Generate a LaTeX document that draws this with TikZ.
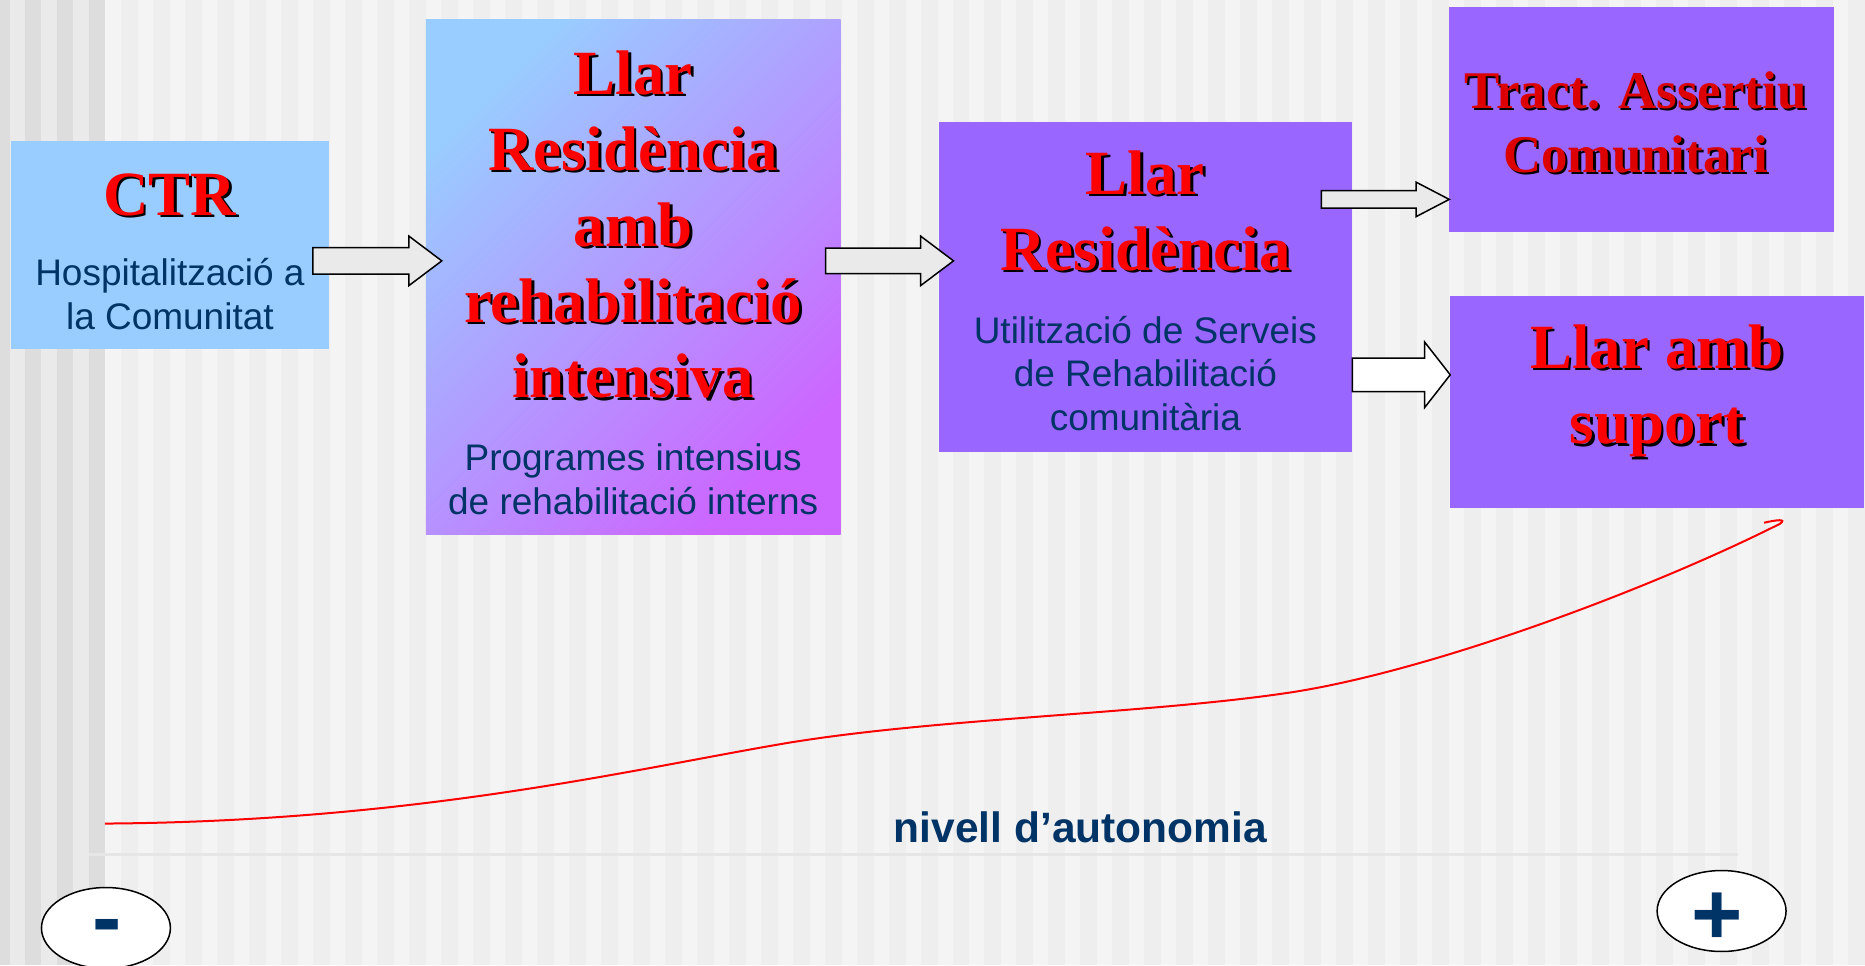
\documentclass[tikz,border=0pt]{standalone}
\usepackage{fontspec}
\setmainfont{Liberation Serif}
\setsansfont{Liberation Sans}
\usetikzlibrary{positioning, shapes.arrows, shapes.geometric}
\definecolor{skyblue}{HTML}{99CCFF}
\definecolor{lilac}{HTML}{9966FF}
\definecolor{orchid}{HTML}{CC66FF}
\definecolor{navy}{HTML}{003366}
\definecolor{darkred}{HTML}{DD0000}
\definecolor{arrowgray}{HTML}{EAEAEA}
\definecolor{stripeA}{HTML}{EAEAEA}
\definecolor{stripeB}{HTML}{DDDDDD}
\definecolor{stripeC}{HTML}{F4F4F4}
\definecolor{stripeD}{HTML}{EEEEEE}
\definecolor{rulegray}{HTML}{E6E6E6}
\newcommand{\bigfont}{\fontsize{63pt}{76pt}\selectfont\bfseries}
\newcommand{\midfont}{\fontsize{53pt}{64pt}\selectfont\bfseries}
\newcommand{\subfont}{\sffamily\fontsize{37pt}{44pt}\selectfont}
\newcommand{\signfont}{\sffamily\bfseries\fontsize{88pt}{100pt}\selectfont}
\newcommand{\shd}[1]{\strut\rlap{\kern0.04em\raisebox{-0.04em}{\color{black}#1}}#1}
\tikzset{box/.style = {rectangle, inner sep=0pt, outer sep=0pt, anchor=north west}}
\tikzset{headline/.style = {font=\bigfont, text=red, align=center, inner sep=0pt}}
\tikzset{subline/.style = {font=\subfont, text=navy, align=center, inner sep=0pt}}
\tikzset{bigarrow/.style = {single arrow, draw, line width=1.5pt, fill=arrowgray, inner xsep=0pt, outer sep=0pt, anchor=tip}}
\tikzset{oval/.style = {ellipse, draw, line width=1.5pt, fill=white, inner sep=0pt}}

\begin{document}
\begin{tikzpicture}[x=1pt, y=-1pt]
  \fill[stripeA] (0,0) rectangle (105,966);
  \fill[stripeB] (0,0) rectangle (10,966);
  \foreach \s in {25,57,89} \fill[stripeB] (\s,0) rectangle ({\s+16},966);
  \fill[stripeC] (105,0) rectangle (1865,966);
  \foreach \k in {0,...,54} \fill[stripeD] ({121+32*\k},0) rectangle ({138+32*\k},966);
  \draw[rulegray, line width=2.5pt] (89,855) -- (1739,855);
  \useasboundingbox (0,0) rectangle (1865,966);

  \node[box, fill=skyblue, minimum width=318pt, minimum height=208pt] (ctr) at (11,141) {};
  \node[box, top color=skyblue, bottom color=orchid, shading angle=45, minimum width=415pt, minimum height=515pt] (llarint) at (426,20) {};
  \node[box, fill=lilac, minimum width=414pt, minimum height=330pt] (llarres) at (939,122) {};
  \node[box, fill=lilac, minimum width=385pt, minimum height=225pt] (tac) at (1450,7) {};
  \node[box, fill=lilac, minimum width=414pt, minimum height=212pt] (suport) at (1451,296) {};

  \node[headline, below=20.8pt of ctr.north] (ctrT) {\shd{CTR}};
  \node[subline, below=113.2pt of ctr.north] (ctrS) {\strut Hospitalització a\\la Comunitat};
  \node[headline, below=20.8pt of llarint.north] (llarintT) {\shd{Llar}\\\shd{Residència}\\\shd{amb}\\\shd{rehabilitació}\\\shd{intensiva}};
  \node[subline, below=420.2pt of llarint.north] (llarintS) {\strut Programes intensius\\de rehabilitació interns};
  \node[headline, below=18.8pt of llarres.north] (llarresT) {\shd{Llar}\\\shd{Residència}};
  \node[subline, below=190.2pt of llarres.north] (llarresS) {\strut Utilització de Serveis\\de Rehabilitació\\comunitària};
  \node[headline, font=\midfont, text=darkred, below=56.2pt of tac.north, xshift=-6pt] (tacT) {\shd{Tract. Assertiu}\\\shd{Comunitari}};
  \node[headline, below=18.8pt of suport.north] (suportT) {\shd{Llar amb}\\\shd{suport}};

  \node[bigarrow, minimum height=129pt, inner ysep=12.5pt, single arrow head extend=11.5pt, single arrow tip angle=74] (ar1) at (442,261) {};
  \node[bigarrow, minimum height=128pt, inner ysep=12pt, single arrow head extend=12pt, single arrow tip angle=74] (ar2) at (954,261) {};
  \node[bigarrow, minimum height=128pt, inner ysep=8pt, single arrow head extend=8.5pt, single arrow tip angle=55] (ar3) at (1450,199.5) {};
  \node[bigarrow, fill=white, minimum height=98pt, inner ysep=16pt, single arrow head extend=16pt, single arrow tip angle=104] (ar4) at (1451,375) {};

  \draw[red, line width=2pt] (105,824) .. controls (420,822) and (640,768) .. (790,743)
    .. controls (940,718.5) and (1150,714) .. (1290,693)
    .. controls (1430,672) and (1650,590) .. (1781,524)
    .. controls (1788,519) and (1778,520) .. (1765,523);

  \node[anchor=base, font=\sffamily\bfseries\fontsize{42.5pt}{50pt}\selectfont, text=navy] (niv) at (1081,843) {nivell d’autonomia};

  \node[oval, minimum width=129pt, minimum height=81pt] (menys) at (106,928.5) {};
  \node[oval, minimum width=129pt, minimum height=81pt] (mes) at (1722.5,911.5) {};
  \node[anchor=base, font=\signfont, text=navy, inner sep=0pt] (menysT) at (107.5,948) {-};
  \node[anchor=base, font=\signfont, text=navy, inner sep=0pt] (mesT) at (1718.5,945) {+};
\end{tikzpicture}
\end{document}
